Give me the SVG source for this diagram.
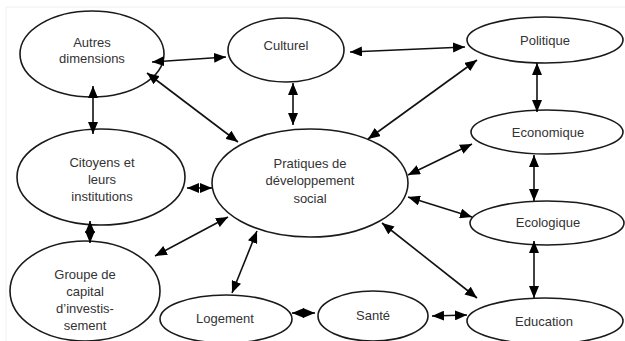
<svg xmlns="http://www.w3.org/2000/svg" width="625" height="341" viewBox="0 0 625 341">
<style>
.n ellipse{fill:#fff;stroke:#1a1a1a;stroke-width:1.6}
.n text{font-family:"Liberation Sans","Open Sans",Arial,sans-serif;font-size:13px;fill:#333;text-anchor:middle}
#edges line{stroke:#111;stroke-width:1.6;marker-start:url(#ah);marker-end:url(#ah)}
</style>
<defs>
<marker id="ah" viewBox="0 0 12 10" refX="12" refY="5" markerWidth="12" markerHeight="10" markerUnits="userSpaceOnUse" orient="auto-start-reverse">
<path d="M0,0 L12,5 L0,10 Z" fill="#000"/>
</marker>
</defs>
<rect width="625" height="341" fill="#fff"/>
<path d="M6,341 V7 H625" fill="none" stroke="#f0f0f0" stroke-width="1"/>
<g id="nodes">
<g id="autres" class="n"><ellipse cx="92" cy="54" rx="72" ry="43"/><text x="92" y="47">Autres</text><text x="92" y="63">dimensions</text></g>
<g id="culturel" class="n"><ellipse cx="286" cy="50" rx="58" ry="32"/><text x="286" y="50">Culturel</text></g>
<g id="politique" class="n"><ellipse cx="545" cy="40" rx="78" ry="23"/><text x="545" y="45">Politique</text></g>
<g id="economique" class="n"><ellipse cx="547" cy="132" rx="76" ry="22"/><text x="548" y="137">Economique</text></g>
<g id="ecologique" class="n"><ellipse cx="547" cy="223" rx="77" ry="22"/><text x="548" y="227">Ecologique</text></g>
<g id="education" class="n"><ellipse cx="545" cy="321" rx="78" ry="23"/><text x="544" y="326">Education</text></g>
<g id="sante" class="n"><ellipse cx="373" cy="316" rx="55" ry="25"/><text x="373" y="320">Santé</text></g>
<g id="logement" class="n"><ellipse cx="226" cy="319" rx="66" ry="24"/><text x="225" y="323">Logement</text></g>
<g id="groupe" class="n"><ellipse cx="85" cy="291" rx="75" ry="50"/><text x="85" y="279">Groupe de</text><text x="85" y="296">capital</text><text x="85" y="313">d’investis-</text><text x="85" y="330">sement</text></g>
<g id="citoyens" class="n"><ellipse cx="101" cy="177" rx="84" ry="48"/><text x="102" y="167">Citoyens et</text><text x="102" y="184">leurs</text><text x="102" y="201">institutions</text></g>
<g id="pratiques" class="n"><ellipse cx="310" cy="183" rx="98" ry="54"/><text x="310" y="168">Pratiques de</text><text x="310" y="185">développement</text><text x="310" y="203">social</text></g>
</g>
<g id="edges">
<line x1="152" y1="62" x2="226" y2="57"/>
<line x1="147" y1="73" x2="238" y2="142"/>
<line x1="93" y1="86" x2="93" y2="134"/>
<line x1="293" y1="83" x2="293" y2="125"/>
<line x1="350" y1="52" x2="465" y2="47"/>
<line x1="477" y1="60" x2="368" y2="139"/>
<line x1="537" y1="63" x2="537" y2="112"/>
<line x1="472" y1="144" x2="408" y2="175"/>
<line x1="534" y1="155" x2="534" y2="201"/>
<line x1="408" y1="197" x2="472" y2="217"/>
<line x1="534" y1="241" x2="534" y2="298"/>
<line x1="382" y1="223" x2="477" y2="298"/>
<line x1="432" y1="316" x2="467" y2="315"/>
<line x1="292" y1="313" x2="315" y2="313"/>
<line x1="232" y1="293" x2="257" y2="231"/>
<line x1="155" y1="256" x2="228" y2="217"/>
<line x1="187" y1="188" x2="212" y2="188"/>
<line x1="90" y1="221" x2="90" y2="243"/>
</g>
</svg>
